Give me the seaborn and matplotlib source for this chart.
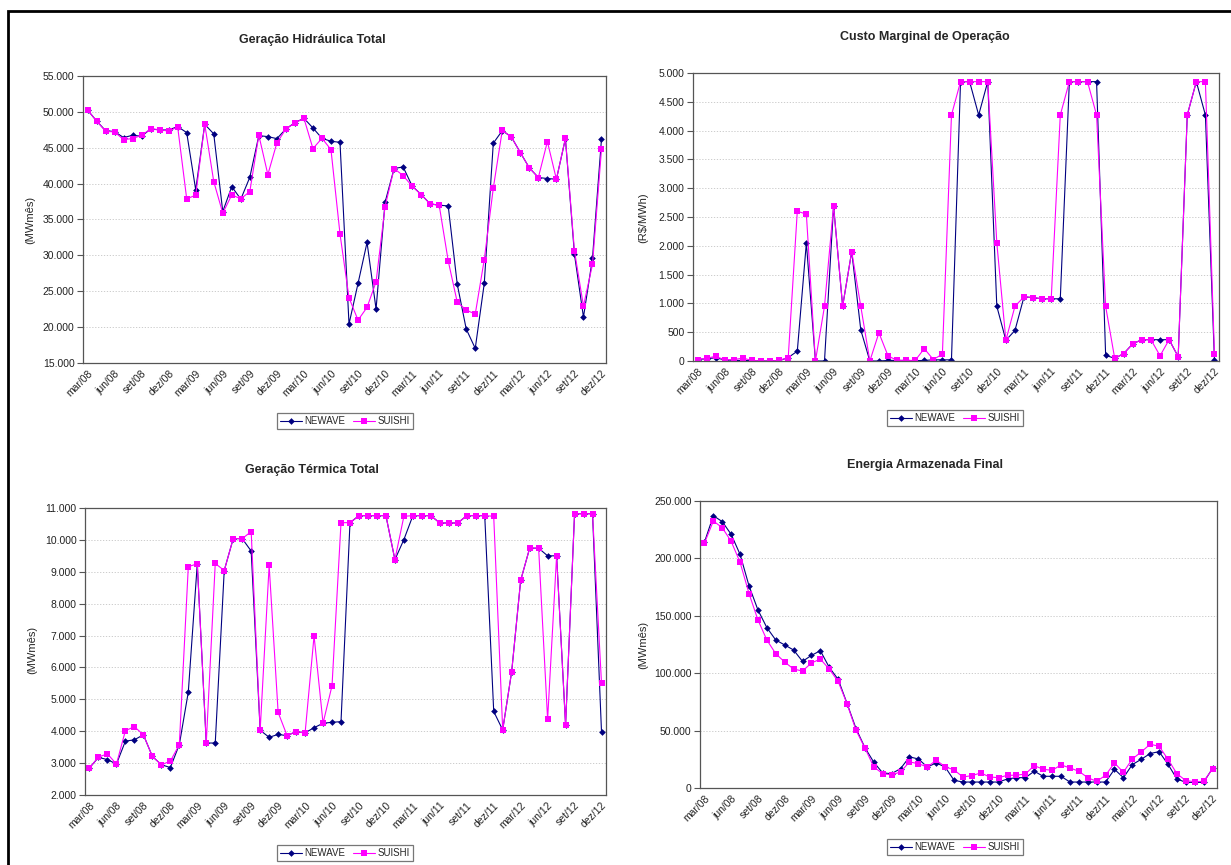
"""Painel NEWAVE x SUISHI"""
import numpy as np
import pandas as pd
import matplotlib
matplotlib.use('Agg')
import matplotlib.pyplot as plt
from matplotlib.patches import Rectangle
from matplotlib.ticker import FuncFormatter, MultipleLocator
import seaborn as sns

# rótulos do eixo x (trimestrais, mar/08 a dez/12)
rotulos_x = ['mar/08', 'jun/08', 'set/08', 'dez/08', 'mar/09', 'jun/09', 'set/09', 'dez/09',
             'mar/10', 'jun/10', 'set/10', 'dez/10', 'mar/11', 'jun/11', 'set/11', 'dez/11',
             'mar/12', 'jun/12', 'set/12', 'dez/12']
n_meses = 58

# Geração Hidráulica Total (MWmês)
hidr_newave = [50270, 48740, 47390, 47250, 46420, 46740, 46600, 47620, 47480, 47480,
               47950, 47110, 39130, 48270, 46930, 36110, 39590, 37830, 40890, 46690,
               46550, 46270, 47620, 48500, 49110, 47760, 46320, 45900, 45760, 20430,
               26090, 31800, 22520, 37410, 42100, 42330, 39680, 38480, 37180, 36990,
               36900, 26000, 19730, 17040, 26090, 45630, 47390, 46510, 44330, 42190,
               40850, 40710, 40610, 46270, 30170, 21400, 29570, 46230]
hidr_suishi = [50270, 48740, 47300, 47200, 46140, 46280, 46740, 47620, 47530, 47300,
               47900, 37880, 38390, 48270, 40290, 35880, 38430, 37880, 38900, 46740,
               41260, 45670, 47620, 48460, 49110, 44880, 46320, 44740, 33000, 24090,
               20980, 22750, 26320, 36810, 42100, 41130, 39640, 38480, 37180, 36990,
               29240, 23490, 22380, 21820, 29420, 39360, 47440, 46510, 44330, 42190,
               40850, 45860, 40610, 46320, 30640, 22930, 28730, 44790]

# Custo Marginal de Operação (R$/MWh)
cmo_newave = [25, 40, 55, 20, 10, 10, 5, 0, 0, 5,
              60, 170, 2050, 0, 0, 2690, 950, 1900, 540, 0,
              0, 10, 10, 10, 5, 10, 20, 20, 20, 4850,
              4850, 4270, 4850, 950, 360, 530, 1115, 1100, 1080, 1080,
              1080, 4850, 4850, 4850, 4850, 100, 45, 130, 300, 370,
              370, 370, 370, 75, 4270, 4850, 4270, 10]
cmo_suishi = [25, 50, 80, 20, 25, 50, 10, 0, 0, 10,
              60, 2600, 2550, 0, 950, 2690, 950, 1900, 950, 0,
              490, 90, 10, 10, 10, 215, 25, 120, 4270, 4850,
              4850, 4850, 4850, 2050, 360, 950, 1115, 1100, 1080, 1080,
              4270, 4850, 4850, 4850, 4270, 950, 45, 130, 300, 370,
              370, 90, 370, 75, 4270, 4850, 4850, 120]

# Geração Térmica Total (MWmês)
term_newave = [2850, 3180, 3110, 2970, 3690, 3730, 3890, 3210, 2950, 2860,
               3580, 5230, 9250, 3630, 3630, 9040, 10040, 10040, 9650, 4030,
               3810, 3900, 3860, 3990, 3950, 4110, 4250, 4280, 4300, 10540,
               10760, 10760, 10760, 10760, 9380, 10010, 10760, 10760, 10760, 10530,
               10530, 10530, 10760, 10760, 10760, 4620, 4040, 5870, 8730, 9740,
               9740, 9500, 9500, 4200, 10820, 10820, 10820, 3980]
term_suishi = [2850, 3190, 3290, 2970, 4020, 4140, 3890, 3210, 2950, 3060,
               3580, 9160, 9250, 3630, 9260, 9040, 10040, 10040, 10260, 4030,
               9200, 4590, 3860, 3990, 3940, 6990, 4250, 5430, 10540, 10540,
               10760, 10760, 10760, 10760, 9380, 10740, 10760, 10760, 10760, 10530,
               10530, 10530, 10760, 10760, 10760, 10740, 4040, 5870, 8730, 9740,
               9740, 4370, 9500, 4200, 10820, 10820, 10820, 5500]

# Energia Armazenada Final (MWmês)
ear_newave = [214200, 237200, 232000, 220900, 203400, 176100, 155100, 139700, 128900, 124600,
              120200, 110300, 115500, 119600, 105100, 94600, 73600, 51800, 35200, 22400,
              13100, 12500, 16900, 27100, 25300, 18300, 21800, 18300, 6700, 5200,
              5200, 5200, 5200, 5200, 7900, 9000, 9000, 14600, 10200, 10200,
              10200, 5200, 5200, 5200, 5200, 5200, 16300, 9000, 20400, 25000,
              30000, 31700, 20700, 7900, 4900, 4900, 4900, 17200]
ear_suishi = [213300, 232600, 226700, 214800, 196500, 169400, 146400, 128900, 117000, 109700,
              103600, 101900, 108900, 112300, 103600, 92800, 73300, 50400, 34900, 18300,
              12500, 11400, 14000, 22700, 21200, 18300, 24200, 18600, 15700, 9600,
              10800, 13100, 9600, 9000, 11100, 11100, 12200, 19500, 16300, 15400,
              20100, 17500, 14600, 9000, 5800, 11100, 21800, 13700, 25300, 31400,
              38100, 36400, 25000, 12500, 6400, 5500, 5800, 16600]

W, H = 1231, 865

sns.set_style('white')
plt.rcParams['font.family'] = ['Liberation Sans', 'DejaVu Sans']

fig = plt.figure(figsize=(W / 100, H / 100), dpi=100)

# moldura preta em volta de tudo
fig.patches.append(Rectangle((8 / W, -0.01), 1.02, 1 - 11 / H + 0.01, transform=fig.transFigure,
                             fill=False, edgecolor='black', linewidth=2, clip_on=False))

paineis = [
    # (titulo, ylabel, newave, suishi, ylim, passo, caixa px, titulo px, ylabel px, legenda px)
    ('Geração Hidráulica Total', '(MWmês)', hidr_newave, hidr_suishi, (15000, 55000), 5000,
     (83, 76, 606, 363), (312, 40), (30, 220), (345, 421)),
    ('Custo Marginal de Operação', '(R$/MWh)', cmo_newave, cmo_suishi, (0, 5000), 500,
     (693, 73, 1219, 361), (925, 37), (643, 218), (955, 418)),
    ('Geração Térmica Total', '(MWmês)', term_newave, term_suishi, (2000, 11000), 1000,
     (85, 508, 606, 795), (312, 470), (32, 650), (345, 853)),
    ('Energia Armazenada Final', '(MWmês)', ear_newave, ear_suishi, (0, 250000), 50000,
     (700, 501, 1217, 788), (925, 465), (643, 645), (955, 847)),
]

fmt_milhar = FuncFormatter(lambda v, p: f'{v:,.0f}'.replace(',', '.'))
cores = {'NEWAVE': '#000080', 'SUISHI': '#FF00FF'}
marcadores = {'NEWAVE': 'D', 'SUISHI': 's'}
tam_marcador = {'D': 3.4, 's': 4.2}

for titulo, ylab, s_nw, s_su, ylim, passo, caixa, pos_t, pos_y, pos_l in paineis:
    x0, y0, x1, y1 = caixa
    ax = fig.add_axes([x0 / W, 1 - y1 / H, (x1 - x0) / W, (y1 - y0) / H])

    df = pd.DataFrame({'mes': np.arange(n_meses), 'NEWAVE': s_nw, 'SUISHI': s_su})
    df = df.melt(id_vars='mes', var_name='serie', value_name='valor')

    sns.lineplot(data=df, x='mes', y='valor', hue='serie', style='serie',
                 palette=cores, markers=marcadores, dashes=False,
                 linewidth=0.8, markersize=3.4, markeredgewidth=0, ax=ax)
    for linha in ax.lines:
        if linha.get_marker() in tam_marcador:
            linha.set_markersize(tam_marcador[linha.get_marker()])

    ax.set_xlim(-0.5, n_meses - 0.5)
    ax.set_ylim(*ylim)
    ax.yaxis.set_major_locator(MultipleLocator(passo))
    ax.yaxis.set_major_formatter(fmt_milhar)
    ax.grid(axis='y', color='#c4c4c4', linestyle=(0, (1.5, 2)), linewidth=0.6)
    ax.set_axisbelow(True)

    ax.set_xticks(np.arange(0, n_meses, 3))
    ax.set_xticklabels(rotulos_x, rotation=45, ha='right', rotation_mode='anchor')
    ax.set_xticks(np.arange(2.5, n_meses, 3), minor=True)
    ax.tick_params(axis='x', which='major', length=0, pad=4, labelsize=7.5, colors='#222222')
    ax.tick_params(axis='x', which='minor', length=4, width=0.8, color='#555555', direction='out')
    ax.tick_params(axis='y', length=4, width=0.8, color='#555555', direction='out',
                   labelsize=7.5, labelcolor='#222222', pad=2, left=True)

    for lado in ax.spines.values():
        lado.set_color('#555555')
        lado.set_linewidth(0.9)

    ax.set_xlabel('')
    ax.set_ylabel('')
    ax.get_legend().remove()

    fig.text(pos_t[0] / W, 1 - pos_t[1] / H, titulo, ha='center', va='center',
             fontsize=9, fontweight='bold')
    fig.text(pos_y[0] / W, 1 - pos_y[1] / H, ylab, ha='center', va='center',
             rotation=90, fontsize=8)

    alcas, nomes = ax.get_legend_handles_labels()
    for alca in alcas:
        if alca.get_marker() in tam_marcador:
            alca.set_markersize(tam_marcador[alca.get_marker()])
    leg = fig.legend(alcas, nomes, loc='center', ncol=2,
                     bbox_to_anchor=(pos_l[0] / W, 1 - pos_l[1] / H),
                     fontsize=7, frameon=True, fancybox=False, handlelength=2.2,
                     handletextpad=0.3, columnspacing=0.8, borderpad=0.3)
    leg.get_frame().set_edgecolor('#555555')
    leg.get_frame().set_linewidth(0.9)

fig.savefig('out.png', dpi=100)
